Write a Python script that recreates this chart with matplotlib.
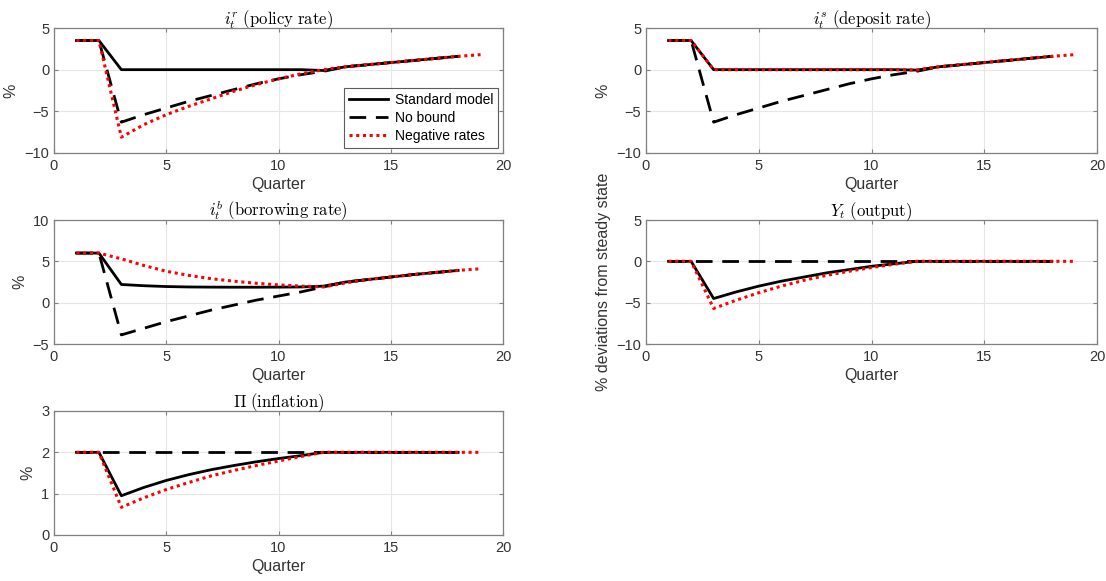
import matplotlib
matplotlib.use("Agg")
import matplotlib.pyplot as plt
import numpy as np

plt.rcParams['font.family'] = ['Liberation Sans', 'DejaVu Sans']
plt.rcParams['mathtext.fontset'] = 'cm'

quarters_std = list(range(1, 19))
quarters_nb = list(range(1, 19))
quarters_neg = list(range(1, 20))

# policy rate
policy_std = [3.5, 3.5, 0, 0, 0, 0, 0, 0, 0, 0, 0, -0.1, 0.35, 0.6, 0.85, 1.1, 1.35, 1.6]
policy_nb = [3.5, 3.5, -6.3, -5.4, -4.6, -3.8, -3.1, -2.4, -1.7, -1.1, -0.6, -0.2, 0.35, 0.6, 0.85, 1.1, 1.35, 1.6]
policy_neg = [3.5, 3.5, -8.1, -6.6, -5.4, -4.4, -3.5, -2.6, -1.8, -1.1, -0.5, 0.0, 0.35, 0.6, 0.85, 1.1, 1.35, 1.6, 1.8]

# deposit rate
deposit_std = [3.5, 3.5, 0, 0, 0, 0, 0, 0, 0, 0, 0, -0.05, 0.35, 0.6, 0.85, 1.1, 1.35, 1.6]
deposit_nb = [3.5, 3.5, -6.3, -5.4, -4.6, -3.8, -3.1, -2.4, -1.7, -1.1, -0.6, -0.2, 0.35, 0.6, 0.85, 1.1, 1.35, 1.6]
deposit_neg = [3.5, 3.5, 0, 0, 0, 0, 0, 0, 0, 0, 0, -0.05, 0.35, 0.6, 0.85, 1.1, 1.35, 1.6, 1.8]

# borrowing rate
borrow_std = [6.0, 6.0, 2.2, 2.05, 1.95, 1.9, 1.88, 1.87, 1.87, 1.88, 1.9, 2.0, 2.5, 2.8, 3.1, 3.4, 3.65, 3.9]
borrow_nb = [6.0, 6.0, -3.9, -3.1, -2.3, -1.6, -0.9, -0.3, 0.3, 0.8, 1.3, 1.9, 2.5, 2.8, 3.1, 3.4, 3.65, 3.9]
borrow_neg = [6.0, 6.0, 5.3, 4.5, 3.8, 3.3, 2.9, 2.6, 2.35, 2.15, 2.0, 1.9, 2.4, 2.8, 3.1, 3.4, 3.65, 3.9, 4.1]

# output
output_std = [0, 0, -4.5, -3.7, -3.0, -2.4, -1.9, -1.4, -1.0, -0.6, -0.3, 0, 0, 0, 0, 0, 0, 0]
output_nb = [0] * 18
output_neg = [0, 0, -5.7, -4.7, -3.8, -3.0, -2.3, -1.7, -1.2, -0.75, -0.35, 0, 0, 0, 0, 0, 0, 0, 0]

# inflation
infl_std = [2, 2, 0.95, 1.15, 1.32, 1.46, 1.58, 1.68, 1.77, 1.85, 1.92, 2.0, 2, 2, 2, 2, 2, 2]
infl_nb = [2] * 18
infl_neg = [2, 2, 0.67, 0.9, 1.1, 1.27, 1.43, 1.56, 1.68, 1.79, 1.9, 2.0, 2, 2, 2, 2, 2, 2, 2]

titles = [r'$i_t^r\ \mathrm{(policy\ rate)}$', r'$i_t^s\ \mathrm{(deposit\ rate)}$',
          r'$i_t^b\ \mathrm{(borrowing\ rate)}$', r'$Y_t\ \mathrm{(output)}$',
          r'$\Pi\ \mathrm{(inflation)}$']
legend_labels = ['Standard model', 'No bound', 'Negative rates']

W, H = 1106, 581
fig = plt.figure(figsize=(W / 100, H / 100), dpi=100)

def rect(l, r, t, b):
    return [l / W, 1 - b / H, (r - l) / W, (b - t) / H]

L = (54, 503)
R = (646, 1097)
rows = [(28, 153), (220, 344), (411, 535)]

panels = [
    (rect(L[0], L[1], *rows[0]), policy_std, policy_nb, policy_neg, (-10, 5), [-10, -5, 0, 5], '%', titles[0]),
    (rect(R[0], R[1], *rows[0]), deposit_std, deposit_nb, deposit_neg, (-10, 5), [-10, -5, 0, 5], '%', titles[1]),
    (rect(L[0], L[1], *rows[1]), borrow_std, borrow_nb, borrow_neg, (-5, 10), [-5, 0, 5, 10], '%', titles[2]),
    (rect(R[0], R[1], *rows[1]), output_std, output_nb, output_neg, (-10, 5), [-10, -5, 0, 5], '% deviations from steady state', titles[3]),
    (rect(L[0], L[1], *rows[2]), infl_std, infl_nb, infl_neg, (0, 3), [0, 1, 2, 3], '%', titles[4]),
]

spine_col = '#808080'
text_col = '#333333'

for i, (r, s, nb, ng, ylim, yt, ylab, title) in enumerate(panels):
    ax = fig.add_axes(r)
    ax.plot(quarters_std, s, color='black', lw=2.0, ls='-', label=legend_labels[0], zorder=3)
    ax.plot(quarters_nb, nb, color='black', lw=2.0, ls=(0, (6, 3.5)), label=legend_labels[1], zorder=2)
    ax.plot(quarters_neg, ng, color='red', lw=2.2, ls=(0, (1, 1.2)), label=legend_labels[2], zorder=4)
    ax.set_xlim(0, 20)
    ax.set_ylim(*ylim)
    ax.set_xticks([0, 5, 10, 15, 20])
    ax.set_yticks(yt)
    ax.grid(True, color='#e6e6e6', lw=0.8)
    ax.set_axisbelow(True)
    for sp in ax.spines.values():
        sp.set_color(spine_col)
        sp.set_linewidth(0.9)
    ax.tick_params(direction='in', length=3, width=0.8, colors=spine_col, labelcolor=text_col,
                   labelsize=10.5, top=True, right=True)
    ax.tick_params(axis='x', pad=4)
    ax.set_xlabel('Quarter', fontsize=11.5, color=text_col, labelpad=3)
    ax.set_ylabel(ylab, fontsize=11.5, color=text_col, labelpad=4)
    ax.set_title(title, fontsize=12, color='black', pad=3)
    if i == 0:
        leg = ax.legend(loc='lower right', fontsize=10, frameon=True, fancybox=False,
                        borderpad=0.35, labelspacing=0.3, handlelength=2.8, handletextpad=0.5,
                        borderaxespad=0.35)
        leg.get_frame().set_edgecolor('#333333')
        leg.get_frame().set_linewidth(0.8)
        for t in leg.get_texts():
            t.set_color('black')

fig.savefig('out.png', dpi=100)
